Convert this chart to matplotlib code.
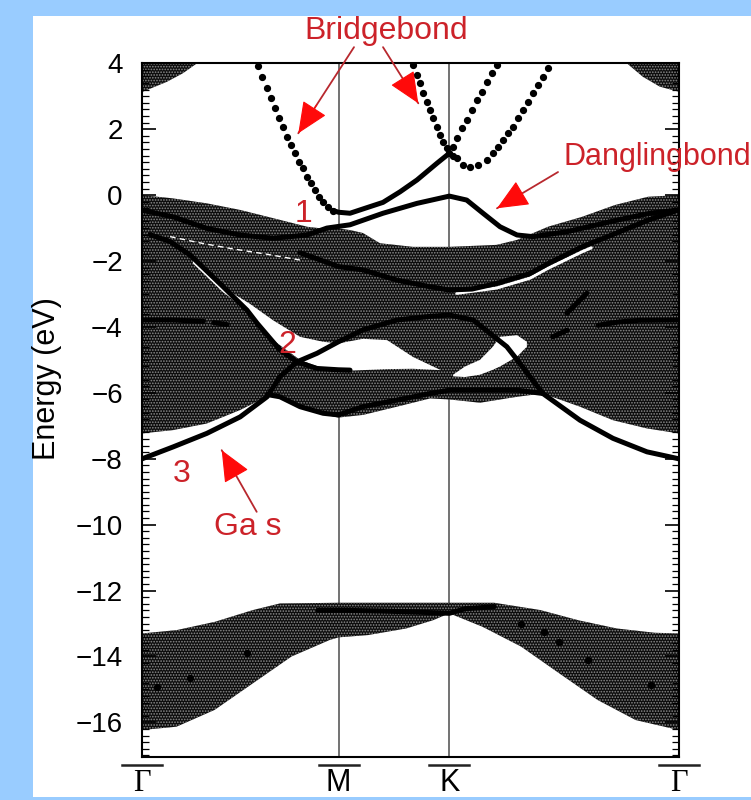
import numpy as np
import matplotlib
matplotlib.use('Agg')
import matplotlib.pyplot as plt
from matplotlib.patches import Rectangle
from matplotlib.ticker import MultipleLocator
import matplotlib.transforms as mtransforms

plt.rcParams['font.family'] = ['Liberation Sans', 'DejaVu Sans']
plt.rcParams['hatch.linewidth'] = 0.8

# ---------------- data ----------------
sym_labels = ['Γ', 'M', 'K', 'Γ']
sym_k = [0.0, 0.5774, 0.9026, 1.577]

# projected bulk bands (upper valence region)
vb_top_k = [0, 0.091, 0.19, 0.288, 0.385, 0.485, 0.552, 0.577, 0.611, 0.649, 0.699, 0.796,
            0.903, 1.042, 1.102, 1.193, 1.293, 1.390, 1.487, 1.577]
vb_top_e = [0.0, -0.10, -0.25, -0.45, -0.70, -0.96, -1.04, -1.01, -1.06, -1.15, -1.46, -1.57,
            -1.57, -1.51, -1.36, -0.96, -0.66, -0.30, -0.05, 0.0]
vb_bot_k = [0, 0.091, 0.19, 0.288, 0.346, 0.367, 0.405, 0.464, 0.532, 0.577, 0.649, 0.749,
            0.846, 0.903, 0.993, 1.102, 1.178, 1.287, 1.384, 1.484, 1.577]
vb_bot_e = [-7.23, -7.13, -6.93, -6.52, -6.22, -6.10, -6.15, -6.42, -6.65, -6.75, -6.67, -6.42,
            -6.17, -6.20, -6.30, -6.12, -6.02, -6.42, -6.83, -7.08, -7.23]

# conduction-band corners near Gamma
cbL_k = [0, 0.073, 0.12, 0.161]
cbL_e = [3.13, 3.44, 3.70, 4.0]
cbR_k = [1.425, 1.472, 1.522, 1.577]
cbR_e = [4.0, 3.59, 3.29, 3.14]

# lower bulk band
lb_top_k = [0, 0.101, 0.213, 0.326, 0.405, 0.577, 0.903, 1.035, 1.170, 1.282, 1.395, 1.507, 1.577]
lb_top_e = [-13.30, -13.20, -12.95, -12.59, -12.39, -12.37, -12.37, -12.37, -12.59, -12.90,
            -13.15, -13.28, -13.30]
lb_bot_k = [0, 0.101, 0.213, 0.326, 0.439, 0.551, 0.577, 0.664, 0.776, 0.855, 0.903, 1.001,
            1.114, 1.226, 1.339, 1.451, 1.577]
lb_bot_e = [-16.23, -16.13, -15.62, -14.81, -14.00, -13.50, -13.42, -13.35, -13.15, -12.90,
            -12.69, -13.10, -13.70, -14.51, -15.32, -15.93, -16.23]

# gaps inside the projected bulk bands
gapA_k = [0.149, 0.238, 0.317, 0.385, 0.464, 0.532, 0.577, 0.649, 0.720, 0.796, 0.8755]
gapA_lo = [-2.07, -2.95, -3.55, -4.40, -5.00, -5.26, -5.34, -5.31, -5.28, -5.27, -5.31]
gapA_hi = [-1.97, -2.80, -3.30, -3.80, -4.30, -4.45, -4.50, -4.36, -4.40, -4.91, -5.30]
gapB_k = [0.914, 0.949, 0.993, 1.031, 1.052, 1.102, 1.131]
gapB_lo = [-5.50, -5.52, -5.45, -5.30, -5.20, -4.90, -4.60]
gapB_hi = [-5.45, -5.20, -5.00, -4.60, -4.30, -4.25, -4.45]
streak1_k = [0.925, 1.042, 1.140, 1.193, 1.293, 1.320]
streak1_e = [-2.98, -2.82, -2.52, -2.22, -1.72, -1.60]
streak2_k = [0.082, 0.17, 0.26, 0.37, 0.464]
streak2_e = [-1.26, -1.45, -1.62, -1.80, -1.97]

# surface bands (solid)
dangling_k = [0, 0.091, 0.19, 0.288, 0.385, 0.485, 0.543, 0.577, 0.611, 0.708, 0.808, 0.903,
              0.954, 1.002, 1.052, 1.102, 1.149, 1.249, 1.396, 1.493, 1.577]
dangling_e = [-0.46, -0.66, -1.01, -1.21, -1.31, -1.21, -1.00, -0.95, -0.90, -0.55, -0.25, -0.03,
              -0.15, -0.55, -0.96, -1.21, -1.26, -1.11, -0.76, -0.55, -0.45]
bridge_mk_k = [0.5618, 0.5774, 0.611, 0.649, 0.708, 0.758, 0.808, 0.867, 0.903]
bridge_mk_e = [-0.47, -0.52, -0.55, -0.42, -0.22, 0.10, 0.46, 0.97, 1.27]
lineC_k = [0.464, 0.532, 0.577, 0.649, 0.749, 0.846, 0.903, 0.970, 1.042, 1.140, 1.193, 1.293,
           1.390, 1.487, 1.577]
lineC_e = [-1.75, -2.00, -2.17, -2.27, -2.58, -2.78, -2.88, -2.85, -2.68, -2.38, -2.08, -1.57,
           -1.17, -0.76, -0.45]
s3_k = [0.023, 0.082, 0.141, 0.238, 0.308, 0.338, 0.405, 0.455, 0.514, 0.577, 0.611]
s3_e = [-1.20, -1.41, -1.82, -2.78, -3.49, -3.89, -4.70, -5.06, -5.26, -5.30, -5.31]
s4_k = [0.367, 0.405, 0.464, 0.532, 0.577, 0.649, 0.749, 0.846, 0.903, 0.993, 1.102, 1.178]
s4_e = [-6.05, -6.12, -6.42, -6.62, -6.67, -6.42, -6.22, -6.02, -5.92, -5.92, -5.92, -6.02]
gas_k = [0, 0.091, 0.19, 0.288, 0.367, 0.405, 0.455, 0.514, 0.577, 0.649, 0.749, 0.846, 0.903,
         0.973, 1.022, 1.072, 1.110, 1.140, 1.178, 1.287, 1.384, 1.484, 1.577]
gas_e = [-8.0, -7.64, -7.23, -6.73, -6.12, -5.51, -5.06, -4.80, -4.45, -4.09, -3.79, -3.68,
         -3.64, -3.79, -4.19, -4.60, -5.10, -5.51, -6.02, -6.83, -7.38, -7.79, -8.0]
flatL_k = [0, 0.09, 0.18]
flatL_e = [-3.79, -3.79, -3.83]
flatL2_k = [0.21, 0.25]
flatL2_e = [-3.87, -3.93]
flatR_k = [1.34, 1.40, 1.46, 1.577]
flatR_e = [-3.95, -3.85, -3.80, -3.79]
fragR_k = [1.207, 1.249]
fragR_e = [-4.30, -4.10]
fragR2_k = [1.249, 1.307]
fragR2_e = [-3.58, -2.98]
lowline_k = [0.517, 0.60, 0.70, 0.80, 0.903, 0.95, 1.035]
lowline_e = [-12.60, -12.60, -12.62, -12.65, -12.69, -12.55, -12.49]

# surface bands (dotted, k-sampled points)
bbL_k = [0.3413, 0.3531, 0.3660, 0.3778, 0.3904, 0.4022, 0.4131, 0.4248, 0.4366, 0.4492, 0.4610,
         0.4719, 0.4836, 0.4954, 0.5080, 0.5198, 0.5324, 0.5471, 0.5618]
bbL_e = [3.92, 3.58, 3.24, 2.94, 2.63, 2.33, 2.06, 1.77, 1.52, 1.27, 1.01, 0.81, 0.56, 0.36, 0.15,
         -0.05, -0.20, -0.35, -0.47]
bbK1_k = [0.797, 0.807, 0.817, 0.826, 0.836, 0.846, 0.856, 0.866, 0.876, 0.885, 0.895, 0.903]
bbK1_e = [3.95, 3.64, 3.39, 3.09, 2.83, 2.58, 2.33, 2.08, 1.82, 1.62, 1.42, 1.27]
bbK2_k = [0.915, 0.925, 0.939, 0.954, 0.969, 0.983, 0.998, 1.013, 1.028, 1.042]
bbK2_e = [1.47, 1.72, 2.03, 2.28, 2.58, 2.89, 3.14, 3.44, 3.70, 3.95]
bbK3_k = [0.913, 0.925, 0.944, 0.964, 0.988, 1.013, 1.032, 1.047, 1.062, 1.076, 1.091, 1.106,
          1.120, 1.135, 1.150, 1.165, 1.179, 1.194]
bbK3_e = [1.20, 1.12, 0.91, 0.86, 0.91, 1.06, 1.27, 1.47, 1.67, 1.88, 2.08, 2.33, 2.58, 2.83,
          3.09, 3.34, 3.59, 3.85]
lowdots_k = [1.114, 1.181, 1.226, 0.044, 0.141, 0.308, 1.311, 1.496]
lowdots_e = [-13.00, -13.25, -13.55, -14.92, -14.66, -13.90, -14.10, -14.87]

# annotations
ann_text = ['Bridgebond', 'Danglingbond', '1', '2', '3', 'Ga s']
ann_k = [0.718, 1.240, 0.474, 0.427, 0.1155, 0.3096]
ann_e = [4.75, 0.91, -0.81, -4.79, -8.71, -10.32]
ann_ha = ['center', 'left', 'center', 'center', 'center', 'center']
ann_size = [23, 22, 23, 23, 23, 23]
arrow_tail = [(0.6227, 4.49), (0.708, 4.49), (1.2225, 0.70), (0.3366, -9.61)]
arrow_tip = [(0.4589, 1.876), (0.8117, 2.786), (1.0431, -0.40), (0.2337, -7.74)]

# ---------------- figure ----------------
fig = plt.figure(figsize=(7.51, 8.0), dpi=100, facecolor='#99ccff')
panel = Rectangle((32.6 / 751, 3 / 800), 1.0, 781 / 800, transform=fig.transFigure,
                  facecolor='white', edgecolor='none', zorder=-10)
fig.patches.append(panel)
ax = fig.add_axes([0.18935, 0.05375, 0.71424, 0.86713])
ax.set_zorder(2)
ax.set_facecolor('white')
ax.set_xlim(0, 1.577)
ax.set_ylim(-17.05, 4.0)

bulk_style = dict(facecolor='#0c0c0c', edgecolor='#8c8c8c', hatch='......', linewidth=0, zorder=1)


def region(kt, et, kb, eb):
    xs = list(kt) + list(kb)[::-1]
    ys = list(et) + list(eb)[::-1]
    ax.fill(xs, ys, **bulk_style)


region(vb_top_k, vb_top_e, vb_bot_k, vb_bot_e)
region(lb_top_k, lb_top_e, lb_bot_k, lb_bot_e)
ax.fill_between(cbL_k, cbL_e, 5, **bulk_style)
ax.fill_between(cbR_k, cbR_e, 5, **bulk_style)

ax.fill_between(gapA_k, gapA_lo, gapA_hi, facecolor='white', edgecolor='none', zorder=1.5)
ax.fill_between(gapB_k, gapB_lo, gapB_hi, facecolor='white', edgecolor='none', zorder=1.5)
ax.plot(streak1_k, streak1_e, color='white', lw=2.2, zorder=1.6, solid_capstyle='round')
ax.plot(streak2_k, streak2_e, color='white', lw=1.0, ls=(0, (4, 3)), zorder=1.6)

for k in sym_k[1:3]:
    ax.axvline(k, color='#5a5a5a', lw=1.2, zorder=0.8)

line_style = dict(color='black', lw=3.6, solid_capstyle='round', solid_joinstyle='round', zorder=3)
for kk, ee in [(dangling_k, dangling_e), (bridge_mk_k, bridge_mk_e), (lineC_k, lineC_e),
               (s3_k, s3_e), (s4_k, s4_e), (gas_k, gas_e), (flatL_k, flatL_e),
               (flatL2_k, flatL2_e), (flatR_k, flatR_e), (fragR_k, fragR_e),
               (fragR2_k, fragR2_e), (lowline_k, lowline_e)]:
    ax.plot(kk, ee, **line_style)

dot_style = dict(ls='none', marker='o', ms=4.2, color='black', zorder=3)
for kk, ee in [(bbL_k, bbL_e), (bbK1_k, bbK1_e), (bbK2_k, bbK2_e), (bbK3_k, bbK3_e),
               (lowdots_k, lowdots_e)]:
    ax.plot(kk, ee, **dot_style)

# axes styling
ax.set_xticks([])
ax.yaxis.set_major_locator(MultipleLocator(2))
ax.yaxis.set_minor_locator(MultipleLocator(0.2))
ax.tick_params(axis='y', which='both', direction='in', left=True, right=True, labelsize=20, pad=14)
ax.tick_params(axis='y', which='major', length=10, width=1.2)
ax.tick_params(axis='y', which='minor', length=5, width=0.9)
for sp in ax.spines.values():
    sp.set_linewidth(1.5)
ax.set_ylabel('Energy (eV)', fontsize=22)
ax.yaxis.set_label_coords(-0.1495, 0.545)

blend = mtransforms.blended_transform_factory(ax.transData, ax.transAxes)
for k, lab in zip(sym_k, sym_labels):
    fam = ['Liberation Serif', 'DejaVu Serif'] if lab == 'Γ' else ['Liberation Sans']
    ax.text(k, -0.049, lab, transform=blend, ha='center', va='baseline', fontsize=22, family=fam,
            clip_on=False)
    ax.plot([k - 0.0588, k + 0.0588], [-0.0115, -0.0115], transform=blend, color='#222222',
            lw=1.8, clip_on=False)

red_text = '#cc2229'
for t, k, e, ha, fs in zip(ann_text, ann_k, ann_e, ann_ha, ann_size):
    ax.text(k, e, t, color=red_text, fontsize=fs, ha=ha, va='baseline', clip_on=False, zorder=5)

for tail, tip in zip(arrow_tail, arrow_tip):
    ax.annotate('', xy=tip, xytext=tail, annotation_clip=False,
                arrowprops=dict(arrowstyle='-', color='#b8282e', lw=1.3, shrinkA=0, shrinkB=0),
                zorder=5)
    start = (tip[0] + 0.33 * (tail[0] - tip[0]), tip[1] + 0.33 * (tail[1] - tip[1]))
    ax.annotate('', xy=tip, xytext=start, annotation_clip=False,
                arrowprops=dict(arrowstyle='-|>,head_length=0.5,head_width=0.22', color='#ff0a0a',
                                lw=0.8, shrinkA=0, shrinkB=0, mutation_scale=40), zorder=5)

fig.savefig('out.png', dpi=100, facecolor=fig.get_facecolor())
